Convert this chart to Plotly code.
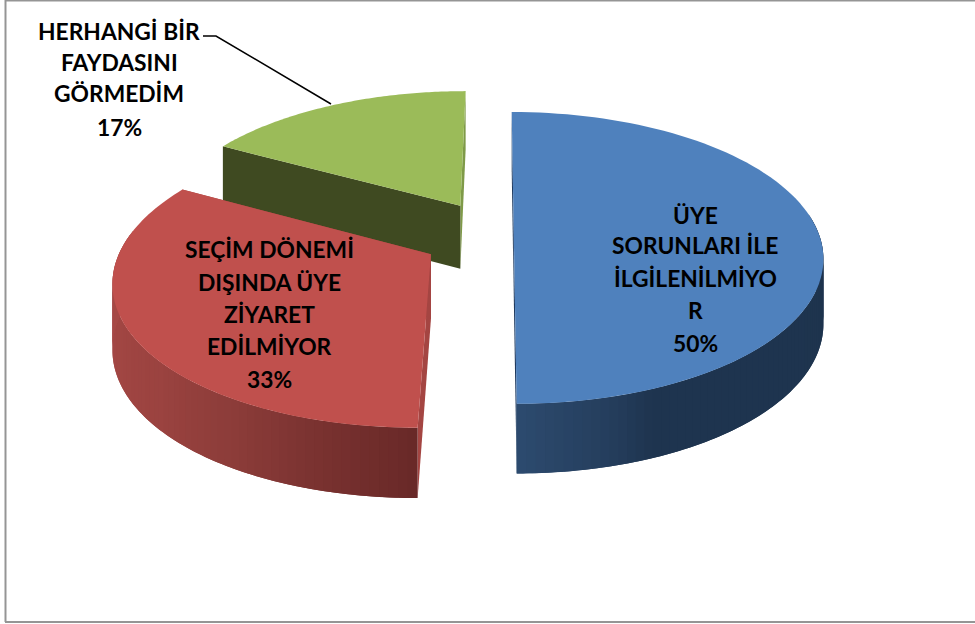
import numpy as np
import plotly.graph_objects as go

# --- data ---
VALUES = [50, 33, 17]
LABEL_LINES = [
    ["ÜYE", "SORUNLARI İLE", "İLGİLENİLMİYO", "R", "50%"],
    ["SEÇİM DÖNEMİ", "DIŞINDA ÜYE", "ZİYARET", "EDİLMİYOR", "33%"],
    ["HERHANGİ BİR", "FAYDASINI", "GÖRMEDİM", "17%"],
]

# --- view / style ---
CX, CY, AX, BY, K = 499, 234, 305, 142, 0.164
DEPTH, K_DEPTH = 64, 0.08
PULL = [(0.0485, 0.0), (-0.218, -0.14), (-0.131, 0.205)]
Y_SCALE = [1.0, 0.975, 1.0]
TOP = ["#4F81BD", "#C0504D", "#9BBB59"]
CUT = ["#1F3A5F", "#A44542", "#3F4A21"]   # cut-face colour
CUT_END = ["#1F3A5F", "#A44542", "#7F9A48"]
# wall shading stops: (degrees clockwise from top, colour)
WALL = [
    [(0, "#1E324C"), (158, "#1F3550"), (165, "#253E5D"), (180, "#2D4B6F")],
    [(180, "#692928"), (200, "#7F3533"), (209, "#8B3C39"), (228, "#9B4340"), (260, "#A64946"), (300, "#A84A47")],
    [(298, "#3F4A21"), (360, "#3F4A21")],
]
LABEL_POS = [
    (695, [215, 245, 278, 310, 343]),
    (269, [249, 282, 314, 346, 379]),
    (119, [31, 62, 93, 127]),
]
FONT = dict(family="Lato, Carlito, sans-serif", size=22.8, color="#000000")
PAGE_W, PAGE_H = 975, 624


def hex2rgb(h):
    return np.array([int(h[i:i + 2], 16) for i in (1, 3, 5)], float)


def shade(stops, a):
    angs = [s[0] for s in stops]
    rgb = np.array([hex2rgb(s[1]) for s in stops])
    return "rgb(%d,%d,%d)" % tuple(np.interp(a, angs, rgb[:, i]) for i in range(3))


def project(X, Y, z=0.0):
    X, Y = np.asarray(X, float), np.asarray(Y, float)
    s = 1 / (1 + K * Y)
    return CX + AX * X * s, CY - BY * Y * s + z * DEPTH / (1 + K_DEPTH * Y)


def ring(deg, pull, ys):
    t = np.radians(deg)
    return pull[0] + np.sin(t), pull[1] + ys * np.cos(t)


def poly(fig, xs, ys, color):
    fig.add_trace(go.Scatter(x=list(xs), y=list(ys), mode="none", fill="toself",
                             fillcolor=color, hoverinfo="skip", showlegend=False))


def cut_face(fig, deg, pull, ys, color):
    ex, ey = ring(deg, pull, ys)
    x0, y0 = project(pull[0], pull[1])
    x1, y1 = project(ex, ey)
    x2, y2 = project(ex, ey, 1)
    x3, y3 = project(pull[0], pull[1], 1)
    poly(fig, [x0, x1, x2, x3, x0], [y0, y1, y2, y3, y0], color)


fig = go.Figure()
cum = np.cumsum([0] + VALUES) / sum(VALUES) * 360
for i in (2, 1, 0):  # back to front
    a0, a1 = cum[i], cum[i + 1]
    pull, ys = PULL[i], Y_SCALE[i]
    cut_face(fig, a1, pull, ys, CUT_END[i] if i == 2 else CUT[i])
    cut_face(fig, a0, pull, ys, CUT[i])
    edges = np.linspace(a0, a1, int((a1 - a0) / 1.5) + 2)
    # overlapping wall strips, so no seams show between them
    for d0, d1 in zip(edges[:-1], edges[1:]):
        if np.cos(np.radians((d0 + d1) / 2)) > 0.15:
            continue
        seg = np.linspace(d0, min(d1 + 1.5, a1), 4)
        X, Y = ring(seg, pull, ys)
        xt, yt = project(X, Y)
        xb, yb = project(X, Y, 1)
        poly(fig, np.r_[xt, xb[::-1], xt[0]], np.r_[yt, yb[::-1], yt[0]],
             shade(WALL[i], (d0 + d1) / 2))
    arc = np.linspace(a0, a1, 90)
    X, Y = ring(arc, pull, ys)
    xt, yt = project(X, Y)
    x0, y0 = project(pull[0], pull[1])
    poly(fig, np.r_[x0, xt, x0], np.r_[y0, yt, y0], TOP[i])

# leader line for the small slice
fig.add_trace(go.Scatter(x=[203, 216, 331], y=[36, 36, 104], mode="lines",
                         line=dict(color="#000000", width=1.5),
                         hoverinfo="skip", showlegend=False))

for lines, (lx, lys) in zip(LABEL_LINES, LABEL_POS):
    for txt, ly in zip(lines, lys):
        fig.add_annotation(x=lx, y=ly, text=f"<b>{txt}</b>", showarrow=False,
                           xanchor="center", yanchor="middle", font=FONT)

frame = dict(type="line", line=dict(color="#959595", width=2), xref="x", yref="y")
fig.update_layout(
    width=PAGE_W, height=PAGE_H, margin=dict(l=0, r=0, t=0, b=0),
    paper_bgcolor="#ffffff", plot_bgcolor="#ffffff", showlegend=False,
    xaxis=dict(range=[0, PAGE_W], visible=False, fixedrange=True),
    yaxis=dict(range=[PAGE_H, 0], visible=False, fixedrange=True),
    shapes=[
        dict(frame, x0=5.5, x1=5.5, y0=0, y1=622),
        dict(frame, x0=5, x1=PAGE_W, y0=0.5, y1=0.5),
        dict(frame, x0=5, x1=PAGE_W, y0=622, y1=622),
    ],
)
fig.write_html("out.html", config=dict(displayModeBar=False),
               post_script="document.body.style.margin='0';document.body.style.overflow='hidden';")
